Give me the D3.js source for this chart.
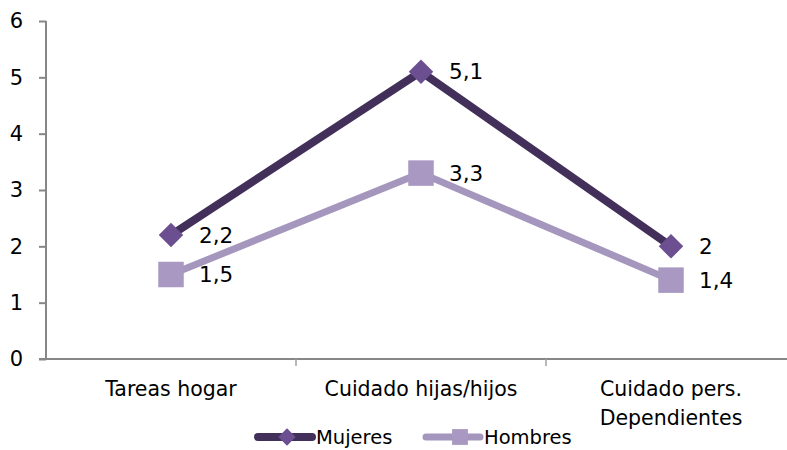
<!DOCTYPE html>
<html>

<head>
  <title></title>
  <script src="https://cdn.jsdelivr.net/npm/d3@7"></script>
</head>
<style>
  body { margin: 0; background: #fff; }
  text { font-family: "DejaVu Sans", sans-serif; fill: #000; }
</style>

<body>

  <div id="chart"></div>
  <script>
    var categories = ['Tareas hogar', 'Cuidado hijas/hijos', 'Cuidado pers.|Dependientes'];
    var mujeres = [2.2, 5.1, 2];
    var hombres = [1.5, 3.3, 1.4];
    var yTicks = [0, 1, 2, 3, 4, 5, 6];
    var seriesNames = ['Mujeres', 'Hombres'];

    var width = 787, height = 450;
    var svg = d3.select('#chart').append('svg')
      .attr('width', width).attr('height', height);

    var x = d3.scaleBand().domain(categories).range([46, 796]);
    var y = d3.scaleLinear().domain([0, 6]).range([359, 21]);

    // y axis
    var yAxis = svg.append('g').attr('transform', 'translate(46,0)')
      .call(d3.axisLeft(y).tickValues(yTicks).tickSize(7).tickPadding(16).tickFormat(d3.format('d')));
    yAxis.selectAll('path,line').attr('stroke', '#878787').attr('stroke-width', 2);
    yAxis.select('.domain').attr('d', 'M0,' + y(6) + 'V' + y(0));
    yAxis.selectAll('text').attr('font-size', 21).style('font-family', '"DejaVu Sans", sans-serif');

    // x axis
    var xAxis = svg.append('g').attr('transform', 'translate(0,' + y(0) + ')');
    xAxis.append('line').attr('x1', 39).attr('x2', 796)
      .attr('stroke', '#878787').attr('stroke-width', 2);
    xAxis.selectAll('.tk').data(categories).enter().append('line')
      .attr('x1', function (d) { return x(d) + x.bandwidth(); })
      .attr('x2', function (d) { return x(d) + x.bandwidth(); })
      .attr('y1', 0).attr('y2', 7)
      .attr('stroke', '#a0a0a0').attr('stroke-width', 1.5);
    xAxis.selectAll('.lbl').data(categories).enter().append('text')
      .attr('text-anchor', 'middle').attr('font-size', 20.5)
      .attr('transform', function (d) { return 'translate(' + (x(d) + x.bandwidth() / 2) + ',37)'; })
      .each(function (d) {
        var parts = d.split('|');
        var t = d3.select(this);
        parts.forEach(function (p, i) {
          t.append('tspan').attr('x', 0).attr('dy', i === 0 ? 0 : 29).text(p);
        });
      });

    var cx = function (d, i) { return x(categories[i]) + x.bandwidth() / 2; };
    var line = d3.line().x(cx).y(function (d) { return y(d); });

    var series = [
      { name: seriesNames[0], values: mujeres, line: '#42305a', fill: '#6b4f90', w: 8, diamond: true, size: 300 },
      { name: seriesNames[1], values: hombres, line: '#a496bd', fill: '#a898c2', w: 7, diamond: false, size: 650 }
    ];

    // draw Hombres first so Mujeres sits on top
    series.slice().reverse().forEach(function (s) {
      var g = svg.append('g');
      g.append('path').datum(s.values).attr('d', line)
        .attr('fill', 'none').attr('stroke', s.line).attr('stroke-width', s.w)
        .attr('stroke-linejoin', 'round');
      g.selectAll('.pt').data(s.values).enter().append('path')
        .attr('d', d3.symbol().type(d3.symbolSquare).size(s.size))
        .attr('transform', function (d, i) {
          return 'translate(' + cx(d, i) + ',' + y(d) + ')' + (s.diamond ? ' rotate(45)' : '');
        })
        .attr('fill', s.fill);
      g.selectAll('.lb').data(s.values).enter().append('text')
        .attr('x', function (d, i) { return cx(d, i) + 28; })
        .attr('y', function (d) { return y(d); })
        .attr('dy', '0.36em').attr('font-size', 21.5)
        .text(function (d) { return String(d).replace('.', ','); });
    });

    // legend
    var legend = svg.append('g').attr('transform', 'translate(0,437)');
    var lx = [255, 423];
    series.forEach(function (s, i) {
      var g = legend.append('g').attr('transform', 'translate(' + lx[i] + ',0)');
      g.append('line').attr('x1', 3).attr('x2', 57).attr('stroke', s.line).attr('stroke-width', s.w)
        .attr('stroke-linecap', 'round');
      g.append('path').attr('d', d3.symbol().type(d3.symbolSquare).size(i === 0 ? 150 : 250))
        .attr('transform', 'translate(' + (i === 0 ? 32 : 37) + ',0)' + (i === 0 ? ' rotate(45)' : ''))
        .attr('fill', s.fill);
      g.append('text').attr('x', 61).attr('dy', '0.36em').attr('font-size', 19.5).text(s.name);
    });
  </script>
</body>

</html>
